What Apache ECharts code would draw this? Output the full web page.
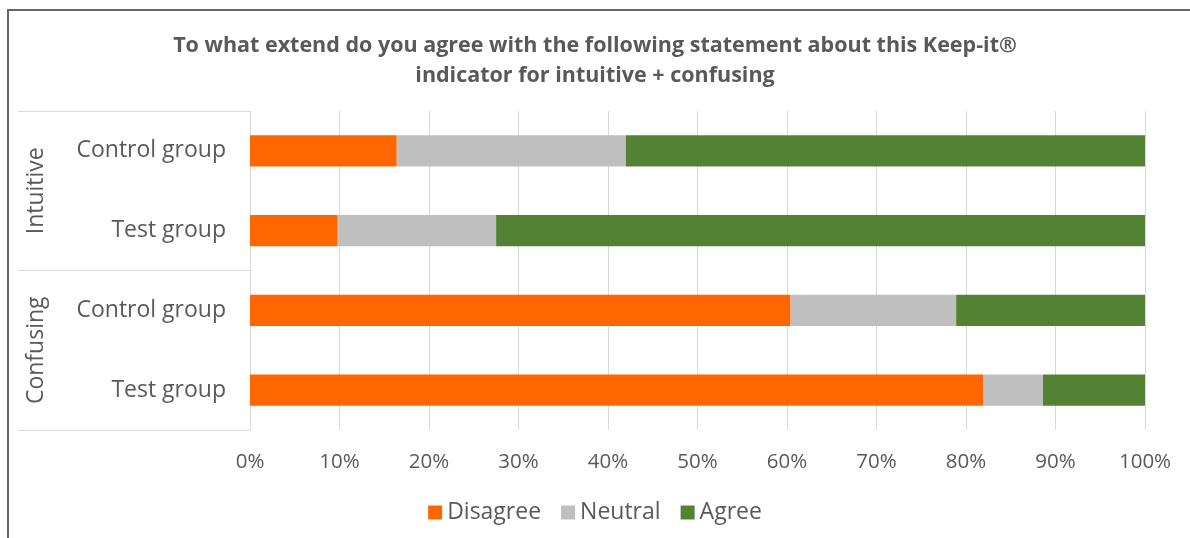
<!DOCTYPE html>
<html>
<head>
<meta charset="utf-8">
<script src="https://cdn.jsdelivr.net/npm/echarts@6/dist/echarts.min.js"></script>
<style>
  html, body { margin: 0; padding: 0; background: #fff; }
  #chart { width: 1190px; height: 538px; }
</style>
</head>
<body>
<div id="chart"></div>
<script>
// Row labels (top to bottom) and their groups
const rowLabels = ['Control group', 'Test group', 'Control group', 'Test group'];
const groupLabels = ['Intuitive', 'Confusing'];
const seriesNames = ['Disagree', 'Neutral', 'Agree'];

// Share of answers per row, in percent
const disagree = [16.4, 9.8, 60.4, 81.9];
const neutral = [25.6, 17.7, 18.5, 6.7];
const agree = [58.0, 72.5, 21.1, 11.4];

const colors = ['#FF6600', '#BFBFBF', '#548235'];
const textColor = '#595959';
const fontFamily = '"Open Sans", sans-serif';

const chart = echarts.init(document.getElementById('chart'));

const values = [disagree, neutral, agree];

chart.setOption({
  animation: false,
  color: colors,
  textStyle: { fontFamily: fontFamily, color: textColor },
  title: {
    text: 'To what extend do you agree with the following statement about this Keep-it®\nindicator for intuitive + confusing',
    left: 'center',
    top: 26,
    textStyle: {
      fontFamily: fontFamily,
      fontSize: 21.5,
      fontWeight: 'bold',
      color: textColor,
      lineHeight: 30
    }
  },
  legend: {
    bottom: 9,
    left: 'center',
    itemWidth: 14,
    itemHeight: 14,
    itemGap: 20,
    icon: 'rect',
    textStyle: { fontSize: 23, color: textColor, fontFamily: fontFamily },
    data: seriesNames
  },
  grid: { left: 250, right: 45, top: 111, bottom: 108, containLabel: false },
  xAxis: {
    type: 'value',
    min: 0,
    max: 100,
    interval: 10,
    axisLine: { show: false },
    axisTick: { show: false },
    splitLine: { show: true, lineStyle: { color: '#D9D9D9', width: 1 } },
    axisLabel: {
      formatter: '{value}%',
      fontSize: 20.5,
      color: textColor,
      margin: 22
    }
  },
  yAxis: [
    {
      type: 'category',
      data: rowLabels,
      inverse: true,
      position: 'left',
      axisLine: { show: false },
      axisTick: { show: false },
      axisLabel: { fontSize: 23, color: textColor, margin: 24, padding: [4, 0, 0, 0] }
    },
    {
      type: 'category',
      data: groupLabels,
      inverse: true,
      position: 'left',
      offset: 0,
      axisLine: { show: false },
      axisTick: { show: true, length: 232, lineStyle: { color: '#D9D9D9', width: 1 } },
      axisLabel: { rotate: 90, fontSize: 23, color: textColor, margin: 202 }
    }
  ],
  graphic: [
    {
      type: 'rect',
      shape: { x: 8, y: 10, width: 1200, height: 600 },
      style: { fill: 'none', stroke: '#666666', lineWidth: 2 },
      silent: true,
      z: 100
    }
  ],
  series: seriesNames.map((name, i) => ({
    name: name,
    type: 'bar',
    stack: 'total',
    yAxisIndex: 0,
    barWidth: '39%',
    data: values[i]
  }))
});
</script>
</body>
</html>
